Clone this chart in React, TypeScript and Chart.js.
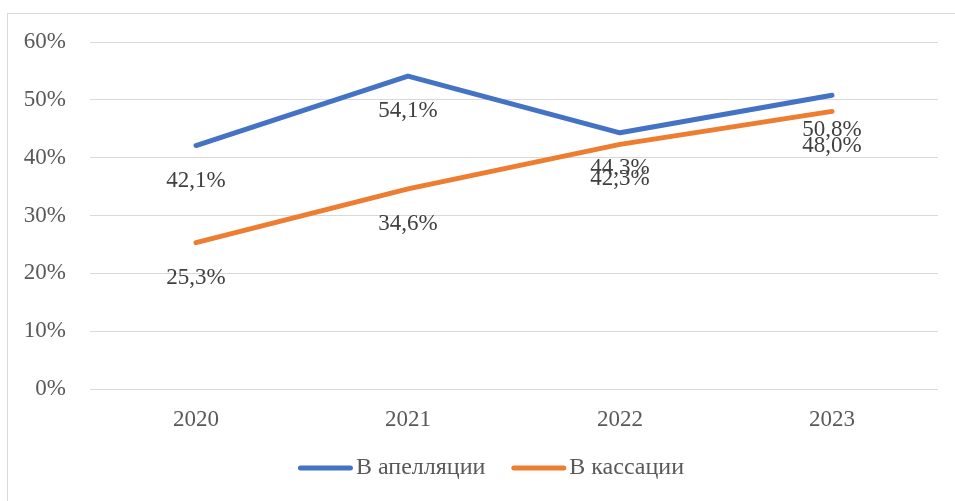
import React, { useEffect, useRef } from "react";
import { Chart, registerables } from "chart.js";

Chart.register(...registerables);

const categories = ["2020", "2021", "2022", "2023"];
const appealValues = [42.1, 54.1, 44.3, 50.8];
const cassationValues = [25.3, 34.6, 42.3, 48.0];
const seriesNames = ["В апелляции", "В кассации"];
const yTicks = [0, 10, 20, 30, 40, 50, 60];

const FONT = "'Liberation Serif', 'Times New Roman', serif";

const fmt = (v: number) => v.toFixed(1).replace(".", ",") + "%";

const dataLabelPlugin = {
  id: "dataLabelsBelow",
  afterDatasetsDraw(chart: any) {
    const ctx = chart.ctx;
    ctx.save();
    ctx.font = `23px ${FONT}`;
    ctx.fillStyle = "#404040";
    ctx.textAlign = "center";
    ctx.textBaseline = "middle";
    chart.data.datasets.forEach((ds: any, i: number) => {
      const meta = chart.getDatasetMeta(i);
      meta.data.forEach((el: any, j: number) => {
        ctx.fillText(fmt(ds.data[j]), el.x, el.y + 35);
      });
    });
    ctx.restore();
  },
};

// Legend drawn below the chart with line swatches next to the labels
const lineLegendPlugin = {
  id: "lineLegend",
  afterDraw(chart: any) {
    const ctx = chart.ctx;
    const lineLen = 50;
    const cap = 2.5;
    const gapText = 3;
    const gapItem = 26;
    const centerX = 491;
    const y = 468;
    ctx.save();
    ctx.font = `24px ${FONT}`;
    const items = chart.data.datasets.map((ds: any) => ({
      text: ds.label,
      color: ds.borderColor,
      width: ctx.measureText(ds.label).width,
    }));
    const total =
      items.reduce((s: number, it: any) => s + lineLen + 2 * cap + gapText + it.width, 0) +
      gapItem * (items.length - 1);
    let x = centerX - total / 2;
    items.forEach((it: any) => {
      ctx.strokeStyle = it.color;
      ctx.lineWidth = 5;
      ctx.lineCap = "round";
      ctx.beginPath();
      ctx.moveTo(x + cap, y);
      ctx.lineTo(x + cap + lineLen, y);
      ctx.stroke();
      x += lineLen + 2 * cap + gapText;
      ctx.fillStyle = "#595959";
      ctx.textAlign = "left";
      ctx.textBaseline = "middle";
      ctx.fillText(it.text, x, y);
      x += it.width + gapItem;
    });
    ctx.restore();
  },
};

export default function App() {
  const ref = useRef<HTMLCanvasElement | null>(null);
  useEffect(() => {
    if (!ref.current) return;
    const chart = new Chart(ref.current, {
      type: "line",
      data: {
        labels: categories,
        datasets: [
          {
            label: seriesNames[0],
            data: appealValues,
            borderColor: "#4472C4",
            backgroundColor: "#4472C4",
            borderWidth: 5,
            pointRadius: 0,
            tension: 0,
            borderCapStyle: "round",
            borderJoinStyle: "round",
          },
          {
            label: seriesNames[1],
            data: cassationValues,
            borderColor: "#ED7D31",
            backgroundColor: "#ED7D31",
            borderWidth: 5,
            pointRadius: 0,
            tension: 0,
            borderCapStyle: "round",
            borderJoinStyle: "round",
          },
        ],
      },
      options: {
        responsive: false,
        animation: false,
        events: [],
        layout: { padding: { top: 42, right: 17, left: 0, bottom: 62 } },
        plugins: {
          tooltip: { enabled: false },
          legend: { display: false },
        },
        scales: {
          x: {
            offset: true,
            grid: { display: false, drawTicks: false },
            border: { display: false },
            afterFit: (scale: any) => {
              scale.height = 50;
            },
            ticks: {
              padding: 17,
              color: "#595959",
              font: { family: FONT, size: 23 },
            },
          },
          y: {
            min: 0,
            max: 60,
            afterFit: (scale: any) => {
              scale.width = 90;
            },
            afterBuildTicks: (scale: any) => {
              scale.ticks = yTicks.map((v) => ({ value: v }));
            },
            grid: { color: "#d9d9d9", lineWidth: 1, drawTicks: false },
            border: { display: false },
            ticks: {
              padding: 24,
              color: "#595959",
              font: { family: FONT, size: 23 },
              callback: (v: any) => v + "%",
            },
          },
        },
      } as any,
      plugins: [dataLabelPlugin, lineLegendPlugin],
    });
    return () => chart.destroy();
  }, []);

  return (
    <div
      style={{
        position: "fixed",
        left: 0,
        top: 0,
        width: 955,
        height: 501,
        overflow: "hidden",
        background: "#fff",
      }}
    >
      <div
        style={{
          position: "absolute",
          left: 7,
          top: 13,
          width: 1000,
          height: 600,
          border: "1px solid #d9d9d9",
        }}
      />
      <canvas
        ref={ref}
        width={955}
        height={501}
        style={{ position: "absolute", left: 0, top: 0, width: 955, height: 501 }}
      />
    </div>
  );
}
